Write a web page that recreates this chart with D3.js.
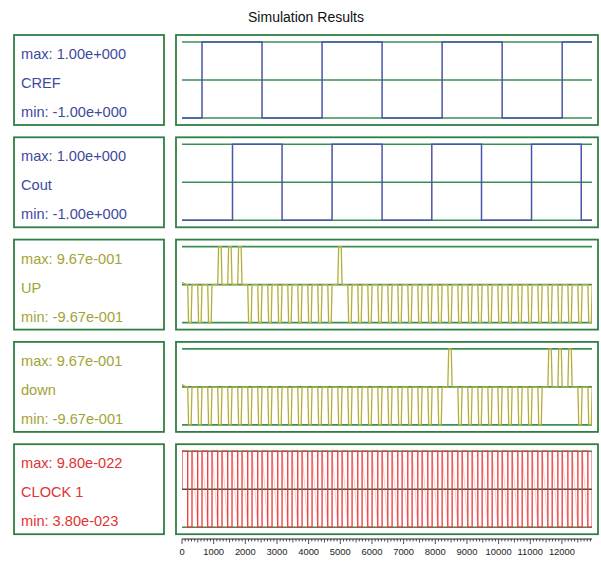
<!DOCTYPE html>
<html>
<head>
<meta charset="utf-8">
<script src="https://cdn.jsdelivr.net/npm/d3@7/dist/d3.min.js"></script>
<style>
  html, body { margin: 0; padding: 0; background: #fff; }
  svg { display: block; font-family: "Liberation Sans", Arial, sans-serif; }
</style>
</head>
<body>
<svg id="chart" width="601" height="568"></svg>
<script>
// ---- signal descriptions ----
const chartTitle = "Simulation Results";
const signalNames = ["CREF", "Cout", "UP", "down", "CLOCK 1"];
const maxLabels = ["1.00e+000", "1.00e+000", "9.67e-001", "9.67e-001", "9.80e-022"];
const minLabels = ["-1.00e+000", "-1.00e+000", "-9.67e-001", "-9.67e-001", "3.80e-023"];
const maxValues = [1, 1, 0.967, 0.967, 9.80e-22];
const minValues = [-1, -1, -0.967, -0.967, 3.80e-23];
const textColors = ["#3d4a9c", "#3d4a9c", "#a3a336", "#a3a336", "#e23232"];
const traceColors = ["#4b55a8", "#4b55a8", "#b3ad3c", "#b3ad3c", "#ea3a3a"];

// time axis
const timeDomain = [0, 12950];
const timeTicks = [0, 1000, 2000, 3000, 4000, 5000, 6000, 7000, 8000, 9000, 10000, 11000, 12000];

// square references: switching instants, starting from the low level
const crefEdges = [632, 2528, 4424, 6320, 8216, 10112, 12008];
const coutEdges = [1595, 3160, 4740, 6320, 7890, 9460, 11040, 12610];

// clock cycle start times (falling edge of CLOCK 1, start of each UP/down pulse)
const cycleStarts = [180, 496, 812, 1128, 1444, 1760, 2076, 2392, 2708, 3024,
  3340, 3656, 3972, 4288, 4604, 4920, 5236, 5552, 5868, 6184,
  6500, 6816, 7132, 7448, 7764, 8080, 8396, 8712, 9028, 9344,
  9660, 9976, 10292, 10608, 10924, 11240, 11556, 11872, 12188, 12504, 12820];
const pulseWidth = 136;
const pulseRamp = 28;

// pulse polarity per cycle for UP and down
const upPulses = [-1, -1, -1, 1, 1, 1, -1, -1, -1, -1,
  -1, -1, -1, -1, -1, 1, -1, -1, -1, -1,
  -1, -1, -1, -1, -1, -1, -1, -1, -1, -1,
  -1, -1, -1, -1, -1, -1, -1, -1, -1, -1, -1];
const downPulses = [-1, -1, -1, -1, -1, -1, -1, -1, -1, -1,
  -1, -1, -1, -1, -1, -1, -1, -1, -1, -1,
  -1, -1, -1, -1, -1, -1, 1, -1, -1, -1,
  -1, -1, -1, -1, -1, -1, 1, 1, 1, -1, -1];
const pulseStartLevel = 0.06;

// ---- build traces ----
function squareTrace(edges, lo, hi) {
  const pts = [[timeDomain[0], lo]];
  let level = lo;
  edges.forEach(e => {
    pts.push([e, level]);
    level = level === lo ? hi : lo;
    pts.push([e, level]);
  });
  pts.push([timeDomain[1], level]);
  return pts;
}

function pulseTrace(polarity, amp) {
  const pts = [[timeDomain[0], pulseStartLevel], [130, 0]];
  cycleStarts.forEach((s, i) => {
    const v = polarity[i] * amp;
    pts.push([s, 0], [s + pulseRamp, v], [s + pulseWidth - pulseRamp, v], [s + pulseWidth, 0]);
  });
  pts.push([timeDomain[1] + 200, 0]);
  return pts;
}

function clockTrace(lo, hi) {
  const mid = (lo + hi) / 2;
  const pts = [[timeDomain[0], mid], [timeDomain[0], hi]];
  cycleStarts.forEach(s => {
    pts.push([s, hi], [s, lo], [s + pulseWidth, lo], [s + pulseWidth, hi]);
  });
  return pts;
}

// faint slanted strokes the plotter leaves across each high phase of the clock
function clockShadow(lo, hi) {
  const segs = [];
  cycleStarts.forEach((s, i) => {
    if (i + 1 < cycleStarts.length) {
      segs.push([[s + pulseWidth, hi], [cycleStarts[i + 1], lo]]);
    }
  });
  return segs;
}

const traces = [
  squareTrace(crefEdges, minValues[0], maxValues[0]),
  squareTrace(coutEdges, minValues[1], maxValues[1]),
  pulseTrace(upPulses, maxValues[2]),
  pulseTrace(downPulses, maxValues[3]),
  clockTrace(minValues[4], maxValues[4])
];

// ---- layout ----
const svg = d3.select("#chart");
const boxGreen = "#2f7f45";
const lineGreen = "#3b8f55";
const panelTop0 = 35, panelStep = 102.3, panelH = 90;
const labelBox = { x: 14, w: 150 };
const plotBox = { x: 176, w: 422 };
const plotX = [182, 592];
const lineInset = { top: 7, bottom: 83 };

const x = d3.scaleLinear().domain(timeDomain).range(plotX);

svg.append("text")
  .attr("x", 306).attr("y", 22)
  .attr("text-anchor", "middle")
  .attr("font-size", 14).attr("fill", "#111")
  .text(chartTitle);

svg.append("defs").append("clipPath").attr("id", "plotClip")
  .append("rect").attr("x", plotX[0]).attr("y", 0)
  .attr("width", plotX[1] - plotX[0]).attr("height", 568);

signalNames.forEach((name, i) => {
  const top = panelTop0 + i * panelStep;
  const g = svg.append("g");

  // label box
  g.append("rect")
    .attr("x", labelBox.x).attr("y", top)
    .attr("width", labelBox.w).attr("height", panelH)
    .attr("fill", "none").attr("stroke", boxGreen).attr("stroke-width", 1.8);
  const lines = ["max: " + maxLabels[i], name, "min: " + minLabels[i]];
  [24, 53, 82].forEach((dy, k) => {
    g.append("text")
      .attr("x", 21).attr("y", top + dy)
      .attr("font-size", 14.6).attr("fill", textColors[i])
      .text(lines[k]);
  });

  // plot box
  g.append("rect")
    .attr("x", plotBox.x).attr("y", top)
    .attr("width", plotBox.w).attr("height", panelH)
    .attr("fill", "none").attr("stroke", boxGreen).attr("stroke-width", 1.8);

  const y = d3.scaleLinear()
    .domain([minValues[i], maxValues[i]])
    .range([top + lineInset.bottom, top + lineInset.top]);
  const mid = (minValues[i] + maxValues[i]) / 2;

  // reference levels: max, mid, min
  [maxValues[i], mid, minValues[i]].forEach(v => {
    g.append("line")
      .attr("x1", plotX[0]).attr("x2", plotX[1])
      .attr("y1", y(v)).attr("y2", y(v))
      .attr("stroke", i === 4 && v === mid ? "#2a5a3a" : lineGreen)
      .attr("stroke-width", 1.6);
  });

  const line = d3.line().x(d => x(d[0])).y(d => y(d[1]));

  if (i === 4) {
    g.selectAll("path.shadow")
      .data(clockShadow(minValues[i], maxValues[i]))
      .join("path")
      .attr("class", "shadow")
      .attr("clip-path", "url(#plotClip)")
      .attr("d", line)
      .attr("fill", "none")
      .attr("stroke", traceColors[i])
      .attr("stroke-opacity", 0.28)
      .attr("stroke-width", 1);
  }

  g.append("path")
    .datum(traces[i])
    .attr("clip-path", "url(#plotClip)")
    .attr("d", line)
    .attr("fill", "none")
    .attr("stroke", traceColors[i])
    .attr("stroke-width", i < 2 ? 1.5 : 1.3)
    .attr("stroke-linejoin", "miter");
});

// ---- time axis ----
const axisY = 539;
const axisG = svg.append("g").attr("transform", `translate(0,${axisY})`);
axisG.append("line")
  .attr("x1", x(timeDomain[0])).attr("x2", x(timeDomain[1]))
  .attr("y1", 0).attr("y2", 0)
  .attr("stroke", "#222").attr("stroke-width", 1);
const minorTicks = d3.range(0, timeDomain[1] + 1, 100);
axisG.selectAll("line.minor")
  .data(minorTicks)
  .join("line")
  .attr("class", "minor")
  .attr("x1", d => x(d)).attr("x2", d => x(d))
  .attr("y1", 0).attr("y2", d => d % 1000 === 0 ? 5 : (d % 500 === 0 ? 3.5 : 2.5))
  .attr("stroke", "#222").attr("stroke-width", 0.8);
axisG.selectAll("text")
  .data(timeTicks)
  .join("text")
  .attr("x", d => x(d)).attr("y", 16)
  .attr("text-anchor", "middle")
  .attr("font-size", 9.4).attr("fill", "#222")
  .text(d => d);
</script>
</body>
</html>
